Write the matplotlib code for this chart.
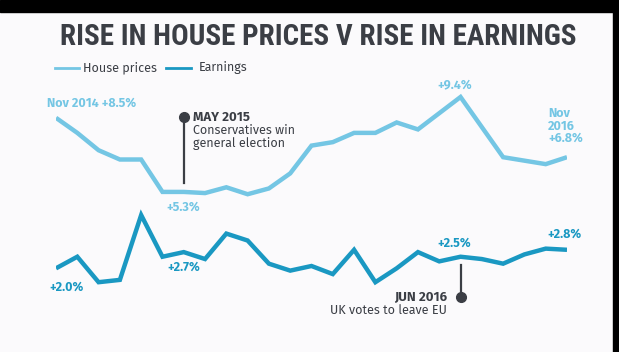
import matplotlib.pyplot as plt
from matplotlib.lines import Line2D
from matplotlib.patches import Rectangle

# monthly, Nov 2014 .. Nov 2016
months = list(range(25))
house_prices = [8.5, 7.85, 7.1, 6.7, 6.7, 5.3, 5.3, 5.25, 5.5, 5.2, 5.45, 6.1,
                7.3, 7.45, 7.85, 7.85, 8.3, 8.0, 8.7, 9.4, 8.1, 6.8, 6.65, 6.5, 6.8]
earnings = [2.0, 2.5, 1.4, 1.5, 4.3, 2.5, 2.7, 2.4, 3.5, 3.2, 2.2, 1.9,
            2.1, 1.75, 2.8, 1.4, 2.0, 2.7, 2.3, 2.5, 2.4, 2.2, 2.6, 2.85, 2.8]

HOUSE = '#74c6e4'
EARN = '#1a98c2'
DARK = '#3b3e45'
BG = '#fbfafc'

W, H = 619, 352
fig = plt.figure(figsize=(W / 100, H / 100), dpi=100, facecolor=BG)

def fx(x):
    return x / W

def fy(y):
    return 1 - y / H

# axes placed so that month 0 -> px 56, month 24 -> px 567; 9.4 -> px 97
ppu = 23.15
y_lo, y_hi = 1.0, 9.6
top_px = 97 - (y_hi - 9.4) * ppu
bot_px = 97 + (9.4 - y_lo) * ppu
ax = fig.add_axes([fx(56), fy(bot_px), fx(511), (bot_px - top_px) / H])
ax.set_xlim(0, 24)
ax.set_ylim(y_lo, y_hi)
ax.axis('off')
ax.set_facecolor(BG)

ax.plot(months, house_prices, color=HOUSE, lw=3.2, solid_joinstyle='miter', solid_capstyle='butt')
ax.plot(months, earnings, color=EARN, lw=3.2, solid_joinstyle='miter', solid_capstyle='butt')

# event markers (May 2015 and Jun 2016)
ax.plot([6, 6], [5.69, 8.54], color=DARK, lw=1.6, clip_on=False)
ax.plot([6], [8.54], 'o', color=DARK, ms=7, clip_on=False)
ax.plot([19, 19], [2.14, 0.76], color=DARK, lw=1.6, clip_on=False)
ax.plot([19], [0.76], 'o', color=DARK, ms=7, clip_on=False)

font = ['Fira Sans', 'Lato', 'DejaVu Sans']
tfont = ['Liberation Sans Narrow', 'Roboto Condensed', 'Roboto', 'DejaVu Sans']

fig.text(fx(318), fy(37), 'RISE IN HOUSE PRICES V RISE IN EARNINGS', ha='center', va='center',
         fontsize=21, fontweight='bold', color=DARK, family=tfont)

# legend
fig.add_artist(Line2D([fx(55), fx(79)], [fy(68), fy(68)], color=HOUSE, lw=2))
fig.text(fx(83), fy(68), 'House prices', ha='left', va='center', fontsize=9, color=DARK, family=font)
fig.add_artist(Line2D([fx(166), fx(191)], [fy(68), fy(68)], color=EARN, lw=2))
fig.text(fx(199), fy(68), 'Earnings', ha='left', va='center', fontsize=9, color=DARK, family=font)

lbl = dict(fontsize=9, fontweight='bold', family=font)
fig.text(fx(47), fy(103), 'Nov 2014 +8.5%', color=HOUSE, ha='left', va='center', **lbl)
fig.text(fx(183), fy(207), '+5.3%', color=HOUSE, ha='center', va='center', **lbl)
fig.text(fx(455), fy(85), '+9.4%', color=HOUSE, ha='center', va='center', **lbl)
fig.text(fx(548), fy(126), 'Nov\n2016\n+6.8%', color=HOUSE, ha='left', va='center', linespacing=1.0, **lbl)
fig.text(fx(66), fy(287), '+2.0%', color=EARN, ha='center', va='center', **lbl)
fig.text(fx(184), fy(267), '+2.7%', color=EARN, ha='center', va='center', **lbl)
fig.text(fx(454), fy(243), '+2.5%', color=EARN, ha='center', va='center', **lbl)
fig.text(fx(564), fy(234), '+2.8%', color=EARN, ha='center', va='center', **lbl)

fig.text(fx(193), fy(117), 'MAY 2015', color=DARK, ha='left', va='center', fontsize=9.5,
         fontweight='bold', family=font)
fig.text(fx(193), fy(137), 'Conservatives win\ngeneral election', color=DARK, ha='left', va='center',
         fontsize=9, family=font, linespacing=1.0)
fig.text(fx(447), fy(297), 'JUN 2016', color=DARK, ha='right', va='center', fontsize=9.5,
         fontweight='bold', family=font)
fig.text(fx(447), fy(310), 'UK votes to leave EU', color=DARK, ha='right', va='center',
         fontsize=9, family=font)

# black frame strips from the screenshot
fig.add_artist(Rectangle((0, fy(12)), 1, 12 / H, color='black', transform=fig.transFigure))
fig.add_artist(Rectangle((fx(613), 0), 6 / W, 1, color='black', transform=fig.transFigure))

fig.savefig('out.png', dpi=100, facecolor=BG)
